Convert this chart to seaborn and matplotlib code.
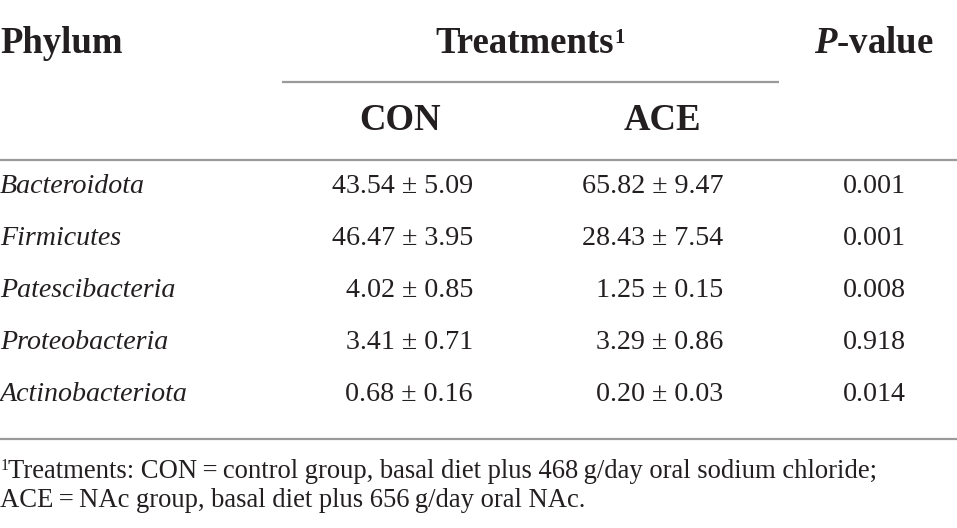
import matplotlib
matplotlib.use("Agg")
import matplotlib.pyplot as plt
import seaborn as sns
import pandas as pd

# ---- data ----
phyla = ["Bacteroidota", "Firmicutes", "Patescibacteria", "Proteobacteria", "Actinobacteriota"]
con_mean = [43.54, 46.47, 4.02, 3.41, 0.68]
con_sd = [5.09, 3.95, 0.85, 0.71, 0.16]
ace_mean = [65.82, 28.43, 1.25, 3.29, 0.20]
ace_sd = [9.47, 7.54, 0.15, 0.86, 0.03]
p_values = [0.001, 0.001, 0.008, 0.918, 0.014]
group_labels = ["CON", "ACE"]
footnote_lines = [
    "Treatments: CON\u2009=\u2009control group, basal diet plus 468\u2009g/day oral sodium chloride;",
    "ACE\u2009=\u2009NAc group, basal diet plus 656\u2009g/day oral NAc.",
]

df = pd.DataFrame({
    "phylum": phyla,
    "CON": [f"{m:.2f} \u00b1 {s:.2f}" for m, s in zip(con_mean, con_sd)],
    "ACE": [f"{m:.2f} \u00b1 {s:.2f}" for m, s in zip(ace_mean, ace_sd)],
    "p": [f"{p:.3f}" for p in p_values],
})

sns.set_theme(style="white")
plt.rcParams["font.family"] = ["Liberation Serif", "DejaVu Serif"]
plt.rcParams["mathtext.fontset"] = "custom"
plt.rcParams["mathtext.rm"] = "Liberation Serif"
plt.rcParams["mathtext.it"] = "Liberation Serif:italic"
plt.rcParams["mathtext.bf"] = "Liberation Serif:bold"
plt.rcParams["mathtext.bfit"] = "Liberation Serif:italic:bold"

TXT = "#231f20"
RULE = "#9a9a9a"
H_FS = 26.5
D_FS = 20.2
F_FS = 19.2

fig = plt.figure(figsize=(9.57, 5.28), dpi=100)
ax = fig.add_axes([0, 0, 1, 1])
ax.set_xlim(0, 957)
ax.set_ylim(528, 0)
ax.axis("off")
renderer = fig.canvas.get_renderer()


def right_edge(t):
    bb = t.get_window_extent(renderer=renderer)
    return ax.transData.inverted().transform((bb.x1, bb.y0))[0]


# header
ax.text(0, 53, "Phylum", fontsize=H_FS, fontweight="bold", color=TXT, ha="left", va="baseline")
t_treat = ax.text(525, 53, "Treatments", fontsize=H_FS, fontweight="bold", color=TXT,
                  ha="center", va="baseline")
ax.text(right_edge(t_treat), 43, "1", fontsize=15, fontweight="bold", color=TXT,
        ha="left", va="baseline")
ax.text(874, 53, r"$\mathbfit{P}$-value", fontsize=H_FS, fontweight="bold", color=TXT, ha="center", va="baseline")
ax.hlines(82, 282, 779, color=RULE, lw=1.6)
for lab, x in zip(group_labels, [400, 662]):
    ax.text(x, 130, lab, fontsize=H_FS, fontweight="bold", color=TXT, ha="center", va="baseline")
ax.hlines(160, 0, 957, color=RULE, lw=1.6)

# body
for i, row in df.iterrows():
    y = 193 + 52 * i
    ax.text(0, y, row["phylum"], fontsize=D_FS, style="italic", color=TXT, ha="left", va="baseline")
    ax.text(473, y, row["CON"], fontsize=D_FS, color=TXT, ha="right", va="baseline")
    ax.text(723, y, row["ACE"], fontsize=D_FS, color=TXT, ha="right", va="baseline")
    ax.text(874, y, row["p"], fontsize=D_FS, color=TXT, ha="center", va="baseline")
ax.hlines(439, 0, 957, color=RULE, lw=1.6)

# footnote
ax.text(1, 470, "1", fontsize=11.5, color=TXT, ha="left", va="baseline")
ax.text(8, 478, footnote_lines[0], fontsize=F_FS, color=TXT, ha="left", va="baseline")
ax.text(0, 507, footnote_lines[1], fontsize=F_FS, color=TXT, ha="left", va="baseline")

fig.savefig("out.png", dpi=100)
